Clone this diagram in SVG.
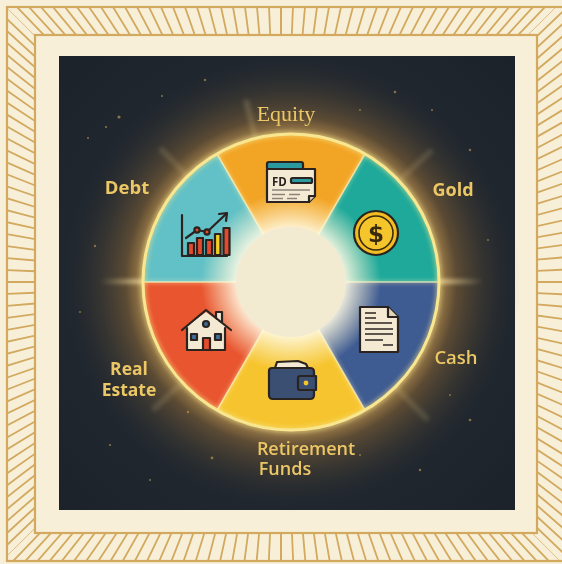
<svg xmlns="http://www.w3.org/2000/svg" width="562" height="564" viewBox="0 0 562 564">
  <style>
    .frame { fill: none; stroke: #d2a95e; stroke-width: 2.2; }
    .hatch { stroke: #d2a95e; stroke-width: 1.8; fill: none; }
    .lbl { font-family: "Open Sans", "Liberation Sans", sans-serif; fill: #ecc766; }
    .ink { stroke: #2a2320; stroke-width: 2.2; stroke-linejoin: round; stroke-linecap: round; }
    .wedge { stroke: none; }
    .seam { stroke: #fff3b8; stroke-width: 1.6; opacity: 0.75; fill: none; }
  </style>
  <defs>
    <radialGradient id="glow" cx="291" cy="282" r="230" gradientUnits="userSpaceOnUse">
      <stop offset="0.6" stop-color="#ffd27a" stop-opacity="0.8"/>
      <stop offset="0.72" stop-color="#e39a3a" stop-opacity="0.3"/>
      <stop offset="1" stop-color="#1e252d" stop-opacity="0"/>
    </radialGradient>
    <radialGradient id="innerGlow" cx="291" cy="282" r="90" gradientUnits="userSpaceOnUse">
      <stop offset="0.55" stop-color="#fffbe8" stop-opacity="1"/>
      <stop offset="1" stop-color="#fff6d0" stop-opacity="0"/>
    </radialGradient>
    <radialGradient id="panelShade" cx="0.5" cy="0.5" r="0.75">
      <stop offset="0" stop-color="#29313a"/>
      <stop offset="1" stop-color="#1b2128"/>
    </radialGradient>
    <filter id="soft" x="-20%" y="-20%" width="140%" height="140%">
      <feGaussianBlur stdDeviation="2"/>
    </filter>
    <linearGradient id="rayL" x1="0" y1="0" x2="1" y2="0">
      <stop offset="0" stop-color="#ffe9a8" stop-opacity="0"/>
      <stop offset="1" stop-color="#ffe9a8" stop-opacity="0.9"/>
    </linearGradient>
    <linearGradient id="rayR" x1="0" y1="0" x2="1" y2="0">
      <stop offset="0" stop-color="#ffe9a8" stop-opacity="0.9"/>
      <stop offset="1" stop-color="#ffe9a8" stop-opacity="0"/>
    </linearGradient>
    <clipPath id="band">
      <path clip-rule="evenodd" d="M7 7 H565 V561 H7 Z M35 35 V533 H537 V35 Z"/>
    </clipPath>
    <clipPath id="wheel">
      <circle cx="291" cy="282" r="148"/>
    </clipPath>
    <!-- quarter of the border, drawn around the origin: rays evenly spaced along the band -->
    <clipPath id="quarter">
      <polygon points="0,0 -340,-340 340,-340"/>
    </clipPath>
    <path id="halfRays" d="M0 -292 V-240
      M12.74 -292 L10.47 -240 M25.48 -292 L20.95 -240 M38.23 -292 L31.42 -240
      M50.97 -292 L41.89 -240 M63.71 -292 L52.37 -240 M76.45 -292 L62.84 -240
      M89.19 -292 L73.31 -240 M101.94 -292 L83.78 -240 M114.68 -292 L94.26 -240
      M127.42 -292 L104.73 -240 M140.16 -292 L115.2 -240 M152.9 -292 L125.68 -240
      M165.65 -292 L136.15 -240 M178.39 -292 L146.62 -240 M191.13 -292 L157.1 -240
      M203.87 -292 L167.57 -240 M216.61 -292 L178.04 -240 M229.36 -292 L188.51 -240
      M242.1 -292 L198.99 -240 M254.84 -292 L209.46 -240 M267.58 -292 L219.93 -240
      M280.32 -292 L230.41 -240 M293.07 -292 L240.88 -240 M305.81 -292 L251.35 -240
      M318.55 -292 L261.83 -240 M331.29 -292 L272.3 -240"/>
    <g id="sideRays" clip-path="url(#quarter)">
      <use href="#halfRays"/>
      <use href="#halfRays" transform="scale(-1 1)"/>
    </g>
  </defs>

  <!-- paper background -->
  <rect x="0" y="0" width="562" height="564" fill="#f7efd8"/>

  <!-- sunburst border -->
  <g id="border">
    <g clip-path="url(#band)" class="hatch">
      <g transform="translate(281 282)">
        <use href="#sideRays"/>
        <g transform="rotate(90)"><use href="#sideRays"/></g>
        <g transform="rotate(180)"><use href="#sideRays"/></g>
        <g transform="rotate(270)"><use href="#sideRays"/></g>
      </g>
    </g>
    <rect class="frame" x="7" y="7" width="558" height="554"/>
    <rect class="frame" x="35" y="35" width="502" height="498"/>
  </g>

  <!-- dark panel -->
  <rect x="59" y="56" width="456" height="454" fill="url(#panelShade)"/>

  <!-- sparkle dots -->
  <g fill="#e0b45a" opacity="0.55">
    <circle cx="119" cy="117" r="1.6"/><circle cx="106" cy="127" r="1.1"/><circle cx="88" cy="138" r="1"/>
    <circle cx="162" cy="96" r="1"/><circle cx="205" cy="80" r="1.2"/><circle cx="395" cy="92" r="1.3"/>
    <circle cx="432" cy="110" r="1"/><circle cx="470" cy="150" r="1.2"/><circle cx="488" cy="240" r="1"/>
    <circle cx="95" cy="246" r="1.2"/><circle cx="80" cy="312" r="1"/><circle cx="470" cy="420" r="1.3"/>
    <circle cx="110" cy="445" r="1.1"/><circle cx="150" cy="480" r="1"/><circle cx="420" cy="470" r="1.2"/>
    <circle cx="212" cy="458" r="1.4"/><circle cx="360" cy="455" r="1"/><circle cx="360" cy="110" r="1"/>
    <circle cx="188" cy="412" r="1.2"/><circle cx="450" cy="395" r="1"/><circle cx="420" cy="315" r="1.3"/>
  </g>

  <!-- halo behind the wheel -->
  <circle cx="291" cy="282" r="230" fill="url(#glow)"/>
  <g filter="url(#soft)">
    <rect x="100" y="279.5" width="45" height="4" fill="url(#rayL)"/>
    <rect x="438" y="279.5" width="45" height="4" fill="url(#rayR)"/>
    <path d="M291 282 L243 100 L249 100 Z" fill="#ffe9a8" opacity="0.18"/>
    <path d="M291 282 L158 150 L162 146 Z" fill="#ffe9a8" opacity="0.15"/>
    <path d="M291 282 L430 148 L434 152 Z" fill="#ffe9a8" opacity="0.15"/>
    <path d="M291 282 L155 412 L151 408 Z" fill="#ffe9a8" opacity="0.15"/>
    <path d="M291 282 L430 418 L426 422 Z" fill="#ffe9a8" opacity="0.15"/>
  </g>

  <!-- wheel segments -->
  <g id="wheel-segments">
    <g id="seg-gold"><path class="wedge" fill="#1fa99a" d="M291 282 L439 282 A148 148 0 0 0 365 153.8 Z"/></g>
    <g id="seg-equity"><path class="wedge" fill="#f2a424" d="M291 282 L365 153.8 A148 148 0 0 0 217 153.8 Z"/></g>
    <g id="seg-debt"><path class="wedge" fill="#62c1c6" d="M291 282 L217 153.8 A148 148 0 0 0 143 282 Z"/></g>
    <g id="seg-realestate"><path class="wedge" fill="#e8552f" d="M291 282 L143 282 A148 148 0 0 0 217 410.2 Z"/></g>
    <g id="seg-retirement"><path class="wedge" fill="#f6c42e" d="M291 282 L217 410.2 A148 148 0 0 0 365 410.2 Z"/></g>
    <g id="seg-cash"><path class="wedge" fill="#3e5b92" d="M291 282 L365 410.2 A148 148 0 0 0 439 282 Z"/></g>
  </g>

  <!-- light seams between segments and the rim -->
  <g id="connectors">
    <g clip-path="url(#wheel)" filter="url(#soft)">
      <path class="seam" stroke-width="6" opacity="0.55" d="M291 282 L439 282 M291 282 L365 153.8 M291 282 L217 153.8 M291 282 L143 282 M291 282 L217 410.2 M291 282 L365 410.2"/>
    </g>
    <path class="seam" d="M291 282 L439 282 M291 282 L365 153.8 M291 282 L217 153.8 M291 282 L143 282 M291 282 L217 410.2 M291 282 L365 410.2"/>
    <circle cx="291" cy="282" r="148" fill="none" stroke="#f7e48a" stroke-width="6" opacity="0.5" filter="url(#soft)"/>
    <circle cx="291" cy="282" r="148" fill="none" stroke="#f8e690" stroke-width="3"/>
  </g>

  <!-- hub -->
  <g id="hub">
    <circle cx="291" cy="282" r="90" fill="url(#innerGlow)" clip-path="url(#wheel)"/>
    <circle cx="291" cy="282" r="55" fill="#f3ead2"/>
  </g>

  <!-- Equity: FD certificate -->
  <g id="equity">
    <path d="M267 168 V164 Q267 162 269 162 H301 Q303 162 303 164 V170" fill="#2a9aa0" class="ink"/>
    <path d="M267 169 H315 V196 L309 202 H267 Z" fill="#f4ead4" class="ink"/>
    <path d="M315 196 H309 V202" fill="#e0d4b4" class="ink"/>
    <text x="272" y="186" font-family="'Open Sans','Liberation Sans',sans-serif" font-weight="700" font-size="11.5" fill="#2a2320">FD</text>
    <rect x="291" y="178" width="21" height="5" rx="1.5" fill="#2a9aa0" class="ink" stroke-width="1.4"/>
    <path d="M272 190 H310 M272 194.5 H285 M289 194.5 H300 M272 198.5 H283 M287 198.5 H297" stroke="#8a8478" stroke-width="1.6"/>
    <text x="286" y="121" text-anchor="middle" font-family="'Liberation Serif', serif" font-size="22" fill="#ecc766">Equity</text>
  </g>

  <!-- Debt: growth chart -->
  <g id="debt">
    <path d="M182 215 V256 H227" fill="none" class="ink"/>
    <rect x="188" y="243" width="6" height="12" fill="#e44a2c" class="ink" stroke-width="1.5"/>
    <rect x="197" y="238" width="6" height="17" fill="#e44a2c" class="ink" stroke-width="1.5"/>
    <rect x="206" y="240" width="6" height="15" fill="#e44a2c" class="ink" stroke-width="1.5"/>
    <rect x="215" y="234" width="5.5" height="21" fill="#f3d021" class="ink" stroke-width="1.5"/>
    <rect x="223.5" y="228" width="6" height="27" fill="#e44a2c" class="ink" stroke-width="1.5"/>
    <path d="M186 238 L197 230 L207 232 L226 214" fill="none" class="ink" stroke-width="1.8"/>
    <path d="M219 214 L227 213 L226 221" fill="none" class="ink" stroke-width="1.8"/>
    <circle cx="197" cy="230" r="2.6" fill="#e44a2c" class="ink" stroke-width="1.4"/>
    <circle cx="207" cy="232" r="2.6" fill="#e44a2c" class="ink" stroke-width="1.4"/>
    <text x="127" y="194" text-anchor="middle" class="lbl" font-weight="700" font-size="18.5">Debt</text>
  </g>

  <!-- Gold: coin -->
  <g id="gold">
    <circle cx="376" cy="233" r="22" fill="#f3bd22" class="ink"/>
    <circle cx="376" cy="233" r="17" fill="#f5c52c" stroke="#3a2a10" stroke-width="1.6"/>
    <text x="376" y="241.5" text-anchor="middle" font-family="'DejaVu Sans', sans-serif" font-weight="700" font-size="23" fill="#3a2a10">$</text>
    <text x="453" y="196" text-anchor="middle" class="lbl" font-weight="700" font-size="18">Gold</text>
  </g>

  <!-- Cash: document -->
  <g id="cash">
    <path d="M360 307 H388 L398 317 V352 H360 Z" fill="#f4ead4" class="ink"/>
    <path d="M388 307 V317 H398" fill="#e0d4b4" class="ink"/>
    <path d="M365 313 H376 M365 318 H376 M365 323 H382 M382 323 H392 M365 329 H393 M365 334 H393 M365 340 H383 M383 345 H393" stroke="#2a2320" stroke-width="1.5"/>
    <text x="456" y="364" text-anchor="middle" class="lbl" font-weight="600" font-size="18.5">Cash</text>
  </g>

  <!-- Real Estate: house -->
  <g id="realestate">
    <rect x="216" y="312" width="6" height="10" fill="#f4ead4" class="ink" stroke-width="1.8"/>
    <path d="M187 326 V350 H225 V326 L206 312 Z" fill="#f4ead4" stroke="none"/>
    <path d="M187 328 V350 H225 V328" fill="none" class="ink"/>
    <path d="M182 330 L206 310 L231 330" fill="none" class="ink" stroke-width="2.6"/>
    <circle cx="206" cy="324" r="3" fill="#3f6e9a" class="ink" stroke-width="1.4"/>
    <rect x="191" y="334" width="6" height="6" fill="#3f6e9a" class="ink" stroke-width="1.4"/>
    <rect x="215" y="334" width="6" height="6" fill="#3f6e9a" class="ink" stroke-width="1.4"/>
    <rect x="203" y="338" width="7" height="12" fill="#e44a2c" class="ink" stroke-width="1.5"/>
    <text x="129" y="375" text-anchor="middle" class="lbl" font-weight="700" font-size="17.5">Real</text>
    <text x="129" y="396" text-anchor="middle" class="lbl" font-weight="700" font-size="17.5">Estate</text>
  </g>

  <!-- Retirement Funds: wallet -->
  <g id="retirement">
    <path d="M275 368 L277 362 L298 361 L306 364 L308 368" fill="#f4ead4" class="ink" stroke-width="1.6"/>
    <path d="M272 368 H310 Q314 368 314 372 V395 Q314 399 310 399 H273 Q269 399 269 395 V371 Q269 368 272 368 Z" fill="#3b4f72" class="ink"/>
    <path d="M300 376 H316 V390 H300 Q298 390 298 388 V378 Q298 376 300 376 Z" fill="#3b4f72" class="ink"/>
    <circle cx="306" cy="383" r="2.4" fill="#f3c52a"/>
    <text x="306" y="455" text-anchor="middle" class="lbl" font-weight="600" font-size="18">Retirement</text>
    <text x="285" y="475" text-anchor="middle" class="lbl" font-weight="600" font-size="18">Funds</text>
  </g>
</svg>
